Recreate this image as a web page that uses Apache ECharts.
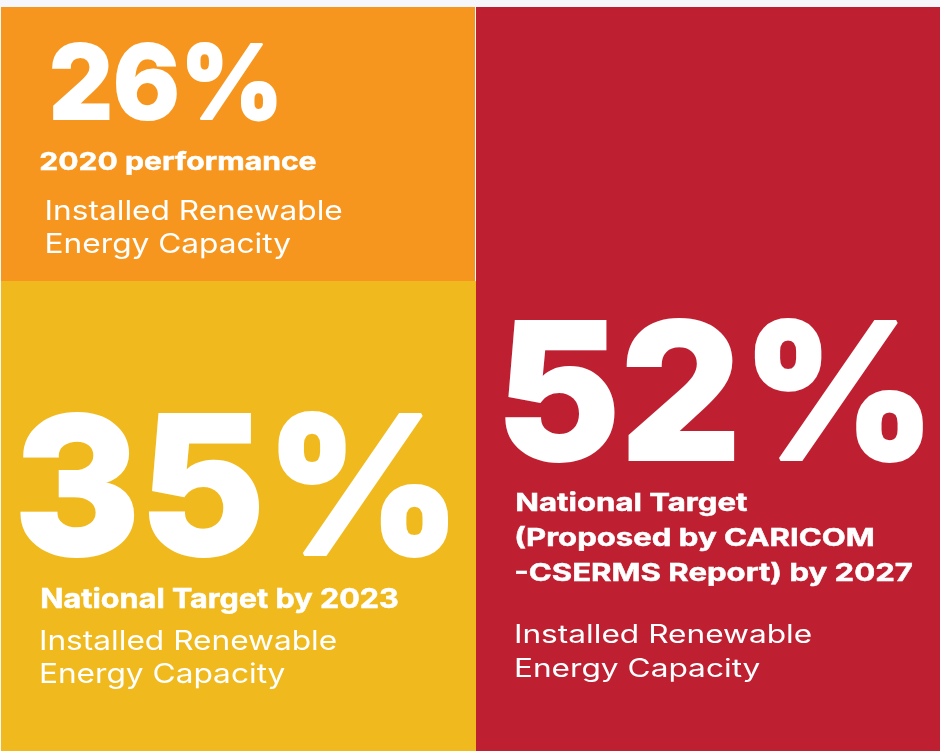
<!DOCTYPE html>
<html>
<head>
<meta charset="utf-8">
<script src="https://cdn.jsdelivr.net/npm/echarts@6/dist/echarts.min.js"></script>
<style>
html,body{margin:0;padding:0;background:#f5f7fa;}
#chart{width:940px;height:751px;}
</style>
</head>
<body>
<div id="chart"></div>
<script>
// ---- data ----
const values = [26, 35, 52];
const headings = [
  ['2020 performance'],
  ['National Target by 2023'],
  ['National Target', '(Proposed by CARICOM', '-CSERMS Report) by 2027']
];
const subLines = ['Installed Renewable', 'Energy Capacity'];

// ---- layout / style ----
const colors = ['#F7961F', '#F0B91E', '#BE2031'];
const panels = [
  {x: 1, y: 7, w: 474, h: 274},
  {x: 1, y: 281, w: 475, h: 470},
  {x: 476, y: 7, w: 464, h: 744}
];
// ink boxes of the big numbers
const bigBox = [
  {l: 51.7, r: 276.7, t: 41.7, b: 121.7},
  {l: 20, r: 448.3, t: 410.7, b: 558.3},
  {l: 505, r: 923.3, t: 318.3, b: 464}
];
// headings: left/right of first line ink, cap top/baseline per line
const headBox = [
  {l: 40, r: 316, lines: [[151.7, 170]]},
  {l: 41, r: 397.7, lines: [[588.3, 608.3]]},
  {l: 516, r: 747.7, lines: [[493.3, 511.7], [528.3, 546.7], [563.3, 581]]}
];
const subBox = [
  {l: 46.7, r: 342.3, lines: [[200, 220], [233.3, 253.3]]},
  {l: 41, r: 336.7, lines: [[630, 650], [663.3, 683.3]]},
  {l: 516, r: 811.7, lines: [[625, 643.3], [658.3, 678.3]]}
];
const FAMILY = 'Inter, "Open Sans", sans-serif';
const ctx = document.createElement('canvas').getContext('2d');
ctx.textBaseline = 'middle';
function fontStr(weight, size) { return weight + ' ' + size + 'px ' + FAMILY; }
function ink(text, font, lw) {
  ctx.font = font;
  const m = ctx.measureText(text);
  return {
    l: -m.actualBoundingBoxLeft - lw / 2,
    r: m.actualBoundingBoxRight + lw / 2,
    t: -m.actualBoundingBoxAscent - lw / 2,
    b: m.actualBoundingBoxDescent + lw / 2
  };
}
function textEl(text, font, lw, x, y, sx, sy) {
  const st = {text: text, font: font, fill: '#ffffff', align: 'left', verticalAlign: 'middle'};
  if (lw > 0) { st.stroke = '#ffffff'; st.lineWidth = lw; st.lineJoin = 'round'; }
  return {type: 'text', x: x, y: y, scaleX: sx, scaleY: sy, z: 10, silent: true, style: st};
}

const elements = [];
panels.forEach((p, i) => {
  elements.push({type: 'rect', shape: {x: p.x, y: p.y, width: p.w, height: p.h},
    style: {fill: colors[i]}, silent: true});
});
values.forEach((v, i) => {
  const t = v + '%';
  const box = bigBox[i];
  const size = 200;
  const lw = 4;
  const font = fontStr(800, size);
  const k = ink(t, font, lw);
  const sx = (box.r - box.l) / (k.r - k.l);
  const sy = (box.b - box.t) / (k.b - k.t);
  elements.push(textEl(t, font, lw, box.l - k.l * sx, box.t - k.t * sy, sx, sy));
});
function addBlock(lines, box, weight, lw) {
  const size = 30;
  const font = fontStr(weight, size);
  const k0 = ink(lines[0], font, lw);
  const kh = ink('H', font, lw);
  const sx = (box.r - box.l) / (k0.r - k0.l);
  const capH = box.lines[0][1] - box.lines[0][0];
  const sy = capH / (kh.b - kh.t);
  lines.forEach((ln, j) => {
    const kl = ink(ln, font, lw);
    const top = box.lines[j][0];
    elements.push(textEl(ln, font, lw, box.l - kl.l * sx, top - kh.t * sy, sx, sy));
  });
}
headings.forEach((lines, i) => addBlock(lines, headBox[i], 700, 0.6));
subBox.forEach((box) => addBlock(subLines, box, 400, 0));

const chart = echarts.init(document.getElementById('chart'), null, {renderer: 'canvas'});
chart.setOption({
  backgroundColor: '#f5f7fa',
  animation: false,
  graphic: {elements: elements}
});
</script>
</body>
</html>
